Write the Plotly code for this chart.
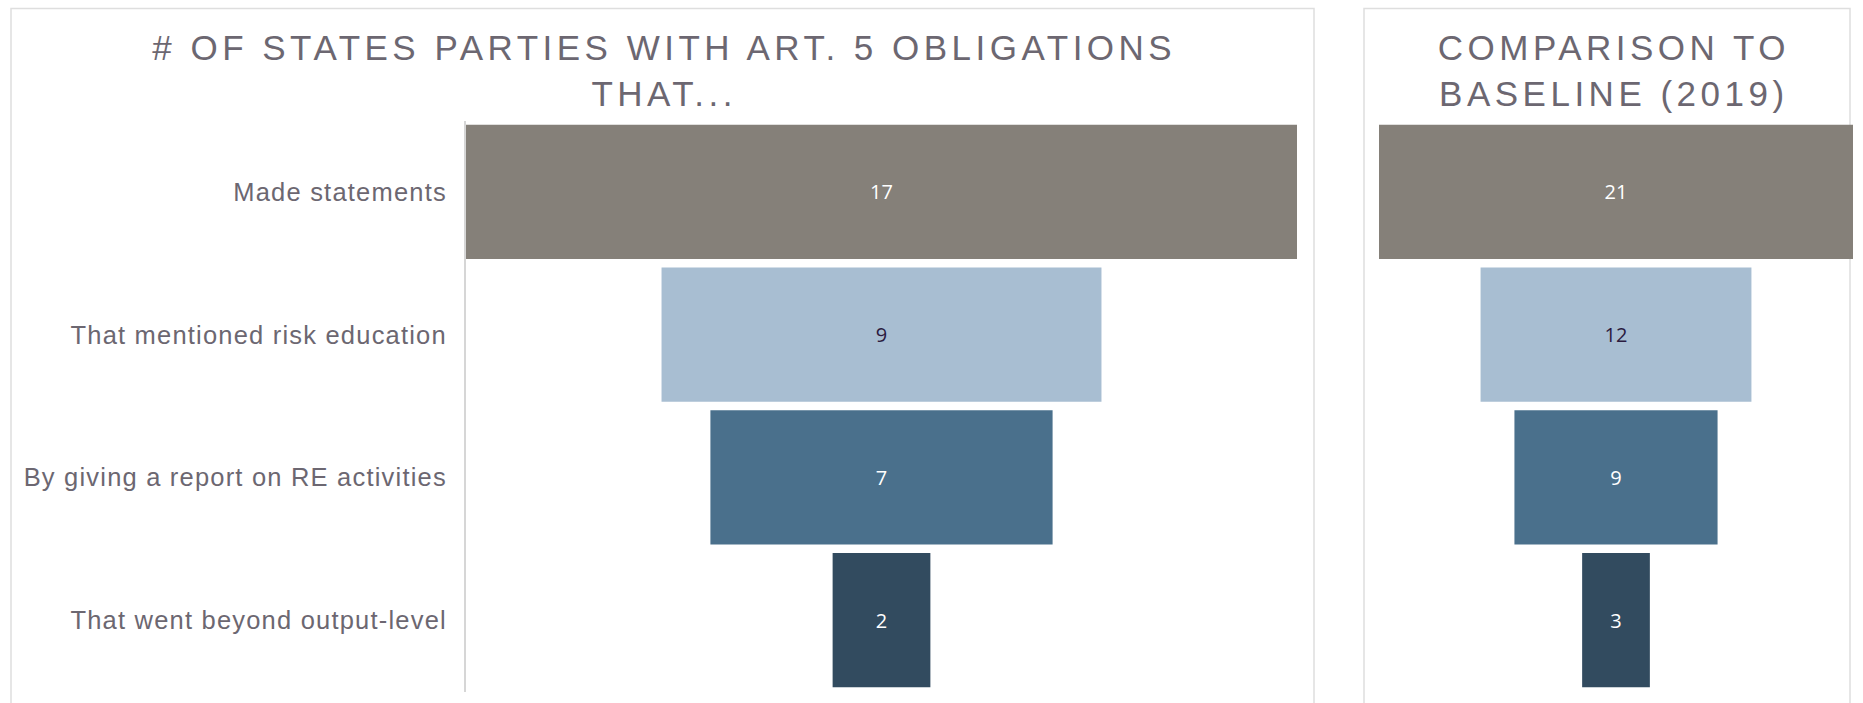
"""Funnel of Art. 5 reporting, current year next to the 2019 baseline."""
import plotly.graph_objects as go

stages = [
    "Made statements",
    "That mentioned risk education",
    "By giving a report on RE activities",
    "That went beyond output-level",
]
counts_current = [17, 9, 7, 2]
counts_baseline = [21, 12, 9, 3]

bar_colors = ["#858079", "#a8bed2", "#4a708c", "#324b5f"]
label_colors = ["#ffffff", "#2b1b3f", "#ffffff", "#ffffff"]
text_grey = "#6c6771"
border_grey = "#dedede"

W, H = 1863, 703


def px_x(v):
    return v / W


def px_y(v):
    return 1 - v / H


fig = go.Figure()
for counts, xa, ya in [(counts_current, "x", "y"), (counts_baseline, "x2", "y2")]:
    fig.add_trace(
        go.Funnel(
            y=stages, x=counts, orientation="h", xaxis=xa, yaxis=ya,
            marker={"color": bar_colors, "line": {"width": 0}},
            connector={"visible": False},
            textinfo="value", textposition="inside", insidetextanchor="middle",
            insidetextfont={"family": "Open Sans", "size": 20, "color": label_colors},
            showlegend=False, hoverinfo="y+x",
        )
    )

y_dom = [px_y(691.5), px_y(120.5)]
fig.update_layout(
    width=W, height=H,
    margin={"l": 0, "r": 0, "t": 0, "b": 0},
    paper_bgcolor="white", plot_bgcolor="white",
    funnelgap=0.06,
    font={"family": "Liberation Sans, Arial, sans-serif", "color": text_grey},
    xaxis={"domain": [px_x(466), px_x(1297)], "range": [-8.5, 8.5],
           "visible": False, "fixedrange": True},
    yaxis={"domain": y_dom, "anchor": "x", "showline": True, "linecolor": "#d6d6d6",
           "linewidth": 2, "showgrid": False, "ticks": "", "ticklabelstandoff": 12,
           "tickfont": {"size": 25.5, "color": text_grey}},
    xaxis2={"domain": [px_x(1379), px_x(1853)], "range": [-10.5, 10.5],
            "visible": False, "fixedrange": True, "anchor": "y2"},
    yaxis2={"domain": y_dom, "anchor": "x2", "showticklabels": False,
            "showline": False, "showgrid": False, "ticks": ""},
)

# panel frames (run off the bottom edge like the original screenshot)
for x0, x1 in [(11, 1314), (1364, 1850)]:
    fig.add_shape(type="rect", xref="paper", yref="paper",
                  x0=px_x(x0), x1=px_x(x1), y0=-0.2, y1=px_y(8.5),
                  line={"color": border_grey, "width": 1.5}, layer="below")

titles = [
    ("# OF STATES PARTIES WITH ART. 5 OBLIGATIONS<br>THAT...", 664),
    ("COMPARISON TO<br>BASELINE (2019)", 1614),
]
for text, cx in titles:
    fig.add_annotation(text=text, xref="paper", yref="paper",
                       x=px_x(cx), y=px_y(70.5), xanchor="center", yanchor="middle",
                       showarrow=False, align="center",
                       font={"size": 35, "color": text_grey})

page_css = (
    "document.body.style.margin='0';document.body.style.overflow='hidden';"
    "var s=document.createElement('style');"
    "s.textContent='.annotation[data-index=\"0\"] text,.annotation[data-index=\"1\"] text"
    "{letter-spacing:4.5px}.ytick text{letter-spacing:1.2px}';"
    "document.head.appendChild(s);"
)
fig.write_html("out.html", post_script=page_css, config={"displayModeBar": False})
